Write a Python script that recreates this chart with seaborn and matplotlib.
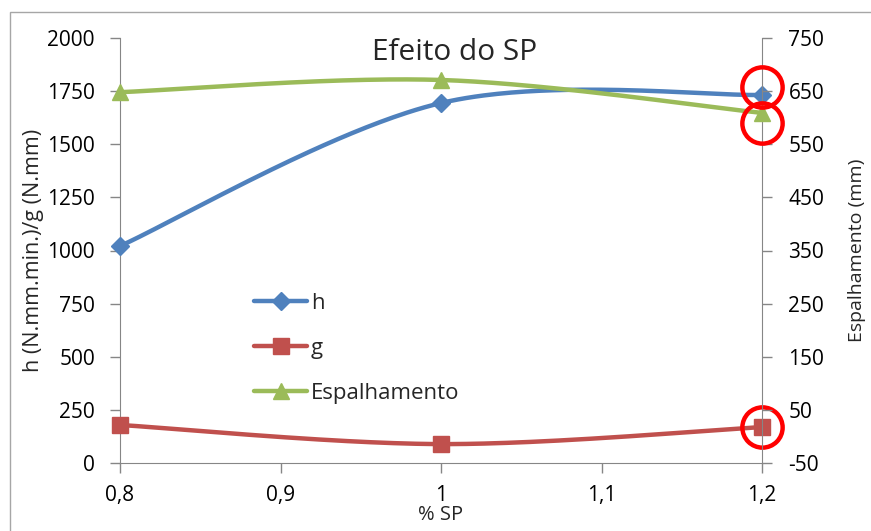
import numpy as np
import matplotlib
matplotlib.use("Agg")
import matplotlib.pyplot as plt
import seaborn as sns
from matplotlib.lines import Line2D
from matplotlib.patches import Rectangle

# ---- data ----
sp = [0.8, 1.0, 1.2]
h_vals = [1021, 1694, 1732]
g_vals = [179, 89, 169]
esp_vals = [648, 671, 609]
x_ticks = [0.8, 0.9, 1.0, 1.1, 1.2]
x_tick_labels = ["0,8", "0,9", "1", "1,1", "1,2"]
left_ticks = list(range(0, 2001, 250))
right_ticks = list(range(-50, 751, 100))
series_names = ["h", "g", "Espalhamento"]

sns.set_style("white")
plt.rcParams['font.family'] = ['Open Sans', 'DejaVu Sans']

C_H, C_G, C_E = "#4F81BD", "#C0504D", "#9BBB59"
SPINE = "#868686"
TICK_FS = 15


def smooth(x, y, xr, yr, n=80):
    x = np.asarray(x, float); y = np.asarray(y, float)
    xn = (x - xr[0]) / (xr[1] - xr[0]); yn = (y - yr[0]) / (yr[1] - yr[0])
    P = np.column_stack([xn, yn])
    out = []
    for i in range(len(P) - 1):
        p0 = P[i - 1] if i > 0 else P[i]
        p1, p2 = P[i], P[i + 1]
        p3 = P[i + 2] if i + 2 < len(P) else P[i + 1]
        c1 = p1 + (p2 - p0) / 6
        c2 = p2 - (p3 - p1) / 6
        t = np.linspace(0, 1, n)[:, None]
        seg = (1 - t) ** 3 * p1 + 3 * (1 - t) ** 2 * t * c1 + 3 * (1 - t) * t ** 2 * c2 + t ** 3 * p2
        out.append(seg if i == 0 else seg[1:])
    S = np.vstack(out)
    return S[:, 0] * (xr[1] - xr[0]) + xr[0], S[:, 1] * (yr[1] - yr[0]) + yr[0]


W, H = 871, 531
fig = plt.figure(figsize=(W / 100, H / 100), dpi=100)
ax = fig.add_axes([120 / W, 1 - 463 / H, (762 - 120) / W, (463 - 38) / H])
ax2 = ax.twinx()

XR = (0.8, 1.2)
YL = (0, 2000)
YR = (-50, 750)

ax.set_xlim(*XR); ax.set_ylim(*YL)
ax2.set_ylim(*YR)

# lines
xs, ys = smooth(sp, h_vals, XR, YL)
sns.lineplot(x=xs, y=ys, sort=False, ax=ax, color=C_H, lw=3.2, zorder=3)
xs, ys = smooth(sp, g_vals, XR, YL)
sns.lineplot(x=xs, y=ys, sort=False, ax=ax, color=C_G, lw=3.2, zorder=3)
ax.plot(sp, h_vals, ls='none', marker='D', ms=9.5, color=C_H, zorder=4, clip_on=False)
ax.plot(sp, g_vals, ls='none', marker='s', ms=11, color=C_G, zorder=4, clip_on=False)

xs, ys = smooth(sp, esp_vals, XR, YR)
sns.lineplot(x=xs, y=ys, sort=False, ax=ax2, color=C_E, lw=3.2, zorder=2)
ax2.plot(sp, esp_vals, ls='none', marker='^', ms=12, color=C_E, zorder=4, clip_on=False)

# red highlight circles (annotations around the last points)
ring = dict(ls='none', marker='o', ms=29, mfc='none', mec='#FF0000', mew=3.2, zorder=6, clip_on=False)
ax2.plot([1.2], [658], **ring)
ax2.plot([1.2], [esp_vals[2] - 19], **ring)
ax.plot([1.2], [g_vals[2]], **ring)

# axes styling
for a in (ax, ax2):
    for s in a.spines.values():
        s.set_visible(False)
ax.spines['left'].set_visible(True); ax.spines['left'].set_color(SPINE)
ax.spines['bottom'].set_visible(True); ax.spines['bottom'].set_color(SPINE)
ax2.spines['right'].set_visible(True); ax2.spines['right'].set_color(SPINE)

ax.set_xticks(x_ticks)
ax.set_xticklabels(x_tick_labels)
ax.set_yticks(left_ticks)
ax.set_yticklabels([str(v) for v in left_ticks])
ax2.set_yticks(right_ticks)
ax2.set_yticklabels([str(v) for v in right_ticks])

ax.tick_params(axis='both', direction='out', length=7, width=1, color=SPINE,
               labelsize=TICK_FS, labelcolor='black')
ax.tick_params(axis='x', bottom=True, pad=9)
ax.tick_params(axis='y', left=True, pad=11)
ax2.tick_params(axis='y', direction='out', length=7, width=1, color=SPINE,
                labelsize=TICK_FS, labelcolor='black', right=True, pad=12)

ax.set_xlabel("% SP", fontsize=14.5, labelpad=-1)
ax.set_ylabel("h (N.mm.min.)/g (N.mm)", fontsize=15.5, labelpad=2)
ax2.set_ylabel("Espalhamento (mm)", fontsize=14, labelpad=17)

fig.text(455 / W, 1 - 53 / H, "Efeito do SP", fontsize=21.5, ha='center', va='center')

# legend
handles = [
    Line2D([], [], color=C_H, lw=3.2, marker='D', ms=9.5),
    Line2D([], [], color=C_G, lw=3.2, marker='s', ms=11),
    Line2D([], [], color=C_E, lw=3.2, marker='^', ms=12),
]
fig.legend(handles, series_names, loc='upper left', bbox_to_anchor=(254 / W, 1 - 293 / H),
           frameon=False, fontsize=16, handlelength=2.4, handletextpad=0.15,
           labelspacing=1.08, borderaxespad=0, borderpad=0)

# outer chart border
fig.patches.append(Rectangle((10 / W, -0.1), 1.2, 1.1 - 12 / H, transform=fig.transFigure,
                             fill=False, edgecolor='#A6A6A6', lw=1, zorder=0))

fig.savefig("out.png", dpi=100)
